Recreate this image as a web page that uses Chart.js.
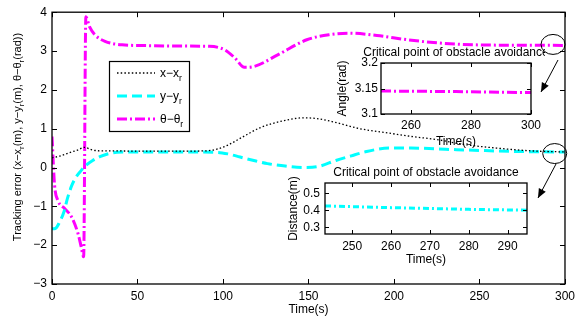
<!DOCTYPE html>
<html>
<head>
<meta charset="utf-8">
<script src="https://cdn.jsdelivr.net/npm/chart.js@4.4.0/dist/chart.umd.min.js"></script>
<style>
body { margin: 0; background: #fff; }
#wrap { position: relative; width: 580px; height: 320px; }
canvas { position: absolute; }
</style>
</head>
<body>
<div id="wrap">
  <canvas id="main" width="580" height="320" style="left:0;top:0"></canvas>
  <canvas id="inset1" width="215" height="110" style="left:330px;top:40px"></canvas>
  <canvas id="inset2" width="260" height="110" style="left:280px;top:160px"></canvas>
</div>
<script>
// ---- data ----
const xTime = [0, 5, 10, 15, 19, 23, 28, 35, 50, 70, 90, 97, 103, 110, 122, 135, 147, 155, 165, 180, 195, 210, 225, 240, 260, 280, 300];
const xErr  = [0.25, 0.3, 0.38, 0.45, 0.52, 0.46, 0.43, 0.43, 0.42, 0.42, 0.43, 0.48, 0.58, 0.75, 1.03, 1.2, 1.28, 1.26, 1.17, 1.0, 0.9, 0.8, 0.72, 0.6, 0.5, 0.43, 0.4];

const yTime = [0, 2, 4.5, 7, 9, 11.4, 14, 17, 20, 23.8, 28, 32.5, 38, 50, 80, 97, 103, 110, 118, 126, 134, 147, 155, 166, 175, 182, 197, 210, 230, 250, 275, 300];
const yErr  = [-1.58, -1.57, -1.4, -1.14, -0.8, -0.48, -0.25, -0.08, 0.06, 0.18, 0.28, 0.35, 0.39, 0.4, 0.4, 0.39, 0.35, 0.27, 0.18, 0.1, 0.05, 0.0, 0.02, 0.18, 0.3, 0.39, 0.5, 0.5, 0.47, 0.44, 0.41, 0.4];

const thTime = [0, 1.5, 3.5, 7.5, 11.4, 15.2, 17, 18.5, 19.8, 22, 25, 31, 41, 55, 72, 92, 101, 107, 112.5, 118, 132, 149, 162, 174, 190, 208, 228, 247, 270, 300];
const thErr  = [0.8, -0.45, -0.85, -1.06, -1.27, -1.7, -2.03, -2.3, 3.88, 3.62, 3.42, 3.25, 3.16, 3.14, 3.13, 3.12, 3.03, 2.82, 2.58, 2.6, 2.9, 3.29, 3.42, 3.46, 3.4, 3.29, 3.2, 3.16, 3.15, 3.145];

const angTime = [250, 275, 300];
const angVal  = [3.145, 3.144, 3.142];
const distTime = [243, 260, 280, 295];
const distVal  = [0.425, 0.415, 0.405, 0.4];

const mainXTicks = [0, 50, 100, 150, 200, 250, 300];
const mainYTicks = [-3, -2, -1, 0, 1, 2, 3, 4];
const angXTicks = [260, 280, 300];
const angYTicks = [3.1, 3.15, 3.2];
const distXTicks = [250, 260, 270, 280, 290];
const distYTicks = [0.3, 0.4, 0.5];

const insetTitle = "Critical point of obstacle avoidance";
const FONT = "'Liberation Sans', Arial, Helvetica, sans-serif";

const pts = (t, v) => t.map((x, i) => ({ x: x, y: v[i] }));
const minus = v => String(v).replace("-", "\u2212");

// text with subscript parts: [["x\u2212x", false], ["r", true]]
function textParts(ctx, parts, x, y, size, align) {
  const widths = parts.map(p => {
    ctx.font = (p[1] ? size * 0.72 : size) + "px " + FONT;
    return ctx.measureText(p[0]).width;
  });
  const total = widths.reduce((a, b) => a + b, 0);
  let cx = align === "center" ? x - total / 2 : x;
  ctx.textAlign = "left";
  ctx.textBaseline = "alphabetic";
  parts.forEach((p, i) => {
    ctx.font = (p[1] ? size * 0.72 : size) + "px " + FONT;
    ctx.fillText(p[0], cx, p[1] ? y + size * 0.3 : y);
    cx += widths[i];
  });
}

// MATLAB-like box with inward ticks
const boxTicks = {
  id: "boxTicks",
  afterDatasetsDraw(chart, args, opts) {
    const { ctx, chartArea: a, scales } = chart;
    const len = opts.len || 5;
    ctx.save();
    ctx.strokeStyle = "#000";
    ctx.lineWidth = 1;
    ctx.beginPath();
    scales.x.ticks.forEach(t => {
      const px = Math.round(scales.x.getPixelForValue(t.value)) + 0.5;
      ctx.moveTo(px, a.bottom); ctx.lineTo(px, a.bottom - len);
      ctx.moveTo(px, a.top); ctx.lineTo(px, a.top + len);
    });
    scales.y.ticks.forEach(t => {
      const py = Math.round(scales.y.getPixelForValue(t.value)) + 0.5;
      ctx.moveTo(a.left, py); ctx.lineTo(a.left + len, py);
      ctx.moveTo(a.right, py); ctx.lineTo(a.right - len, py);
    });
    ctx.stroke();
    ctx.lineWidth = opts.border || 1.3;
    ctx.strokeRect(a.left, a.top, a.right - a.left, a.bottom - a.top);
    if (opts.title) {
      ctx.fillStyle = "#000";
      textParts(ctx, [[opts.title, false]], (a.left + a.right) / 2, a.top - 7, 12, "center");
    }
    ctx.restore();
  }
};

// legend, y label and annotations of the main chart
const mainDecor = {
  id: "mainDecor",
  afterDraw(chart) {
    const { ctx, scales } = chart;
    const sx = scales.x, sy = scales.y;
    ctx.save();
    ctx.fillStyle = "#000";
    // rotated y title
    ctx.translate(17, 137);
    ctx.rotate(-Math.PI / 2);
    textParts(ctx, [["Tracking error (x\u2212x", false], ["r", true], ["(m), y\u2212y", false], ["r", true],
      ["(m), \u03b8\u2212\u03b8", false], ["r", true], ["(rad))", false]], 0, 4, 11, "center");
    ctx.restore();

    // legend box
    ctx.save();
    const lx = 109, ly = 61, lw = 80, lh = 70;
    ctx.fillStyle = "#fff";
    ctx.fillRect(lx, ly, lw, lh);
    ctx.strokeStyle = "#000";
    ctx.lineWidth = 1.2;
    ctx.strokeRect(lx + 0.5, ly + 0.5, lw, lh);
    const rows = [73, 96, 119];
    const names = [["x\u2212x", "r"], ["y\u2212y", "r"], ["\u03b8\u2212\u03b8", "r"]];
    chart.data.datasets.forEach((ds, i) => {
      ctx.save();
      ctx.strokeStyle = ds.borderColor;
      ctx.lineWidth = ds.borderWidth;
      ctx.setLineDash(ds.borderDash);
      ctx.beginPath();
      ctx.moveTo(117, rows[i]);
      ctx.lineTo(155, rows[i]);
      ctx.stroke();
      ctx.restore();
      ctx.fillStyle = "#000";
      textParts(ctx, [[names[i][0], false], [names[i][1], true]], 160, rows[i] + 4, 12, "left");
    });
    ctx.restore();

    // circles and arrows
    ctx.save();
    ctx.strokeStyle = "#000";
    ctx.fillStyle = "#000";
    ctx.lineWidth = 1;
    [[293, 3.17], [294, 0.36]].forEach(c => {
      ctx.beginPath();
      ctx.ellipse(sx.getPixelForValue(c[0]), sy.getPixelForValue(c[1]), 12, 10, 0, 0, Math.PI * 2);
      ctx.stroke();
    });
    const arrow = (x1, y1, x2, y2) => {
      ctx.beginPath();
      ctx.moveTo(x1, y1); ctx.lineTo(x2, y2);
      ctx.stroke();
      const ang = Math.atan2(y2 - y1, x2 - x1);
      ctx.beginPath();
      ctx.moveTo(x2, y2);
      ctx.lineTo(x2 - 10 * Math.cos(ang - 0.4), y2 - 10 * Math.sin(ang - 0.4));
      ctx.lineTo(x2 - 10 * Math.cos(ang + 0.4), y2 - 10 * Math.sin(ang + 0.4));
      ctx.closePath();
      ctx.fill();
    };
    arrow(558, 60, 541, 92);
    arrow(556, 164, 538, 198);
    ctx.restore();
  }
};

function axis(ticks, min, max, fontSize, pad, fit, fmt, title, tpad) {
  return {
    type: "linear", min: min, max: max,
    grid: { display: false, drawTicks: false }, border: { display: false },
    afterBuildTicks: s => { s.ticks = ticks.map(v => ({ value: v })); },
    afterFit: fit,
    ticks: { padding: pad, color: "#000", font: { family: FONT, size: fontSize }, callback: fmt },
    title: title ? { display: true, text: title, color: "#000", font: { family: FONT, size: 12 }, padding: tpad } : { display: false }
  };
}

Chart.defaults.animation = false;

new Chart(document.getElementById("main"), {
  type: "line",
  data: {
    datasets: [
      { label: "x\u2212xr", data: pts(xTime, xErr), borderColor: "#000", borderWidth: 1.3, borderDash: [1.5, 2.2], pointRadius: 0, cubicInterpolationMode: "monotone", clip: 0 },
      { label: "y\u2212yr", data: pts(yTime, yErr), borderColor: "#00ffff", borderWidth: 3, borderDash: [10, 5], pointRadius: 0, cubicInterpolationMode: "monotone", clip: 0 },
      { label: "\u03b8\u2212\u03b8r", data: pts(thTime, thErr), borderColor: "#ff00ff", borderWidth: 3, borderDash: [10, 3, 2, 3], pointRadius: 0, cubicInterpolationMode: "monotone", clip: 0 }
    ]
  },
  options: {
    responsive: false,
    layout: { padding: { left: 0, right: 8, top: 10, bottom: 0 } },
    plugins: { legend: { display: false }, tooltip: { enabled: false }, boxTicks: { len: 5 } },
    scales: {
      x: axis(mainXTicks, 0, 300, 12, 5, s => { s.height = 36; }, v => minus(v), "Time(s)", { top: 0, bottom: 3 }),
      y: axis(mainYTicks, -3, 4, 12, 5, s => { s.width = 52; }, v => minus(v), null)
    }
  },
  plugins: [boxTicks, mainDecor]
});

new Chart(document.getElementById("inset1"), {
  type: "line",
  data: { datasets: [
    { label: "angle", data: pts(angTime, angVal), borderColor: "#ff00ff", borderWidth: 3, borderDash: [10, 3, 2, 3], pointRadius: 0, clip: 0 }
  ] },
  options: {
    responsive: false,
    layout: { padding: { left: 0, right: 12, top: 23, bottom: 0 } },
    plugins: { legend: { display: false }, tooltip: { enabled: false }, boxTicks: { len: 4, title: insetTitle } },
    scales: {
      x: axis(angXTicks, 250, 300, 12, 4, s => { s.height = 36; }, v => String(v), "Time(s)", { top: 0, bottom: 1 }),
      y: axis(angYTicks, 3.1, 3.2, 12, 3, s => { s.width = 51; }, v => v.toFixed(v === 3.15 ? 2 : 1), "Angle(rad)", { top: 5, bottom: 0 })
    }
  },
  plugins: [boxTicks]
});

new Chart(document.getElementById("inset2"), {
  type: "line",
  data: { datasets: [
    { label: "distance", data: pts(distTime, distVal), borderColor: "#00ffff", borderWidth: 3, borderDash: [6, 3, 2, 3], pointRadius: 0, clip: 0 }
  ] },
  options: {
    responsive: false,
    layout: { padding: { left: 0, right: 13, top: 23, bottom: 0 } },
    plugins: { legend: { display: false }, tooltip: { enabled: false }, boxTicks: { len: 4, title: insetTitle } },
    scales: {
      x: axis(distXTicks, 243, 295, 12, 5, s => { s.height = 36; }, v => String(v), "Time(s)", { top: 0, bottom: 3 }),
      y: axis(distYTicks, 0.26, 0.56, 12, 5, s => { s.width = 45; }, v => v.toFixed(1), "Distance(m)", { top: 6, bottom: 0 })
    }
  },
  plugins: [boxTicks]
});
</script>
</body>
</html>
